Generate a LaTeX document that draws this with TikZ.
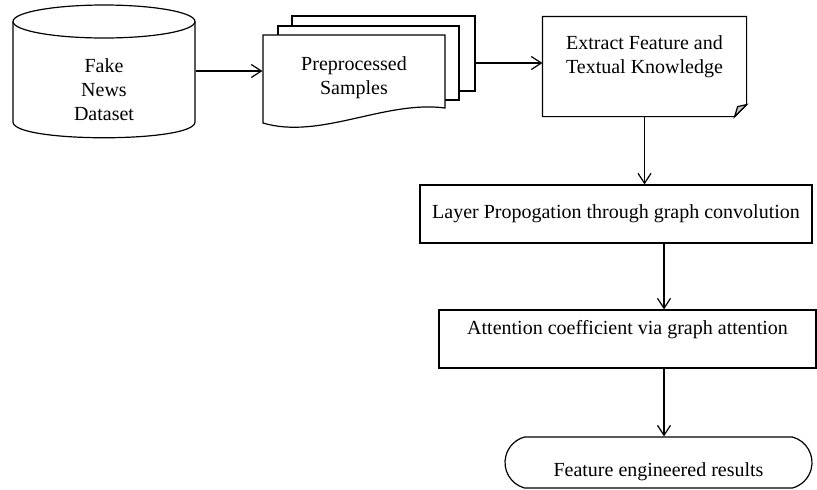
\documentclass[tikz,border=0pt]{standalone}
\usepackage{fontspec}
\setmainfont{Liberation Serif}
\usetikzlibrary{arrows.meta,calc,shapes.misc}
\begin{document}
\begin{tikzpicture}[x=0.5pt,y=-0.5pt,line width=0.6pt,
		txt/.style={font=\fontsize{10}{12}\selectfont,align=center,inner sep=0pt},
		box/.style={txt,draw,minimum height=29pt},
		flow/.style={-{Straight Barb[length=5pt,width=6.5pt]}}]
	\useasboundingbox (0,0) rectangle (817,489);
	% dataset cylinder
	\draw (104,21.5) ellipse [x radius=91,y radius=16.5];
	\draw (13,21.5) -- (13,122) .. controls (13,143) and (195,143) .. (195,122) -- (195,21.5);
	\node[txt,minimum width=91pt] (data) at (104,90) {Fake\\News\\Dataset};
	% stacked samples
	\node[draw,fill=white,minimum width=91.5pt,minimum height=37.5pt] (page3) at (383.5,53.5) {};
	\node[draw,fill=white,minimum width=90.5pt,minimum height=37pt] (page2) at (368.5,63) {};
	\draw[fill=white] (263,35) -- (445,35) -- (445,108) .. controls (385,100) and (320,140) .. (263,123) -- cycle;
	\node[txt,minimum width=91pt] (prep) at (354,77.5) {Preprocessed\\Samples};
	% note with folded corner
	\node[txt,minimum width=101.5pt,minimum height=49.5pt] (feat) at (644.5,66.5) {Extract Feature and\\Textual Knowledge\\~};
	\draw (feat.north west) -- (feat.north east) -- ($(feat.south east)+(0,-12)$) -- ($(feat.south east)+(-12,0)$) -- (feat.south west) -- cycle;
	\draw[fill=gray!45] ($(feat.south east)+(0,-12)$) -- ($(feat.south east)+(-12,0)$) -- ($(feat.south east)+(-9,-10)$) -- cycle;
	% process boxes
	\node[box,minimum width=196pt] (layer) at (616,214) {Layer Propogation through graph convolution};
	\node[box,minimum width=188.5pt] (attn) at (627.5,339) {Attention coefficient via graph attention\\~};
	\node[txt,draw,rounded rectangle,rounded rectangle arc length=150,minimum width=153.5pt,minimum height=25.5pt,text height=16pt] (res) at (658.5,462.5) {Feature engineered results};
	% connectors
	\coordinate (d1) at ([yshift=9.5pt]data.east);
	\coordinate (s1) at ([yshift=-4.75pt]page3.east);
	\coordinate (axis) at (664,0);
	\draw[flow] (d1) -- (d1 -| prep.west);
	\draw[flow] (s1) -- (s1 -| feat.west);
	\draw[flow] (feat.south) -- (feat.south |- layer.north);
	\draw[flow] (layer.south -| axis) -- (attn.north -| axis);
	\draw[flow] (attn.south -| axis) -- (res.north -| axis);
\end{tikzpicture}
\end{document}
